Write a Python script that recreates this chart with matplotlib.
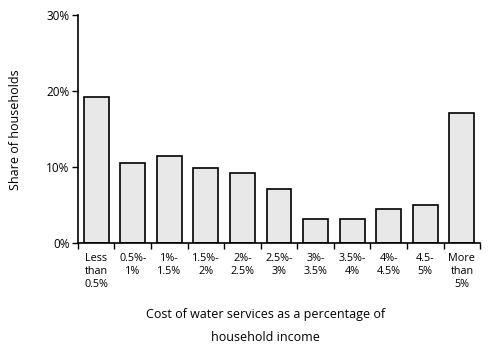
import matplotlib.pyplot as plt
import numpy as np
from matplotlib.ticker import FuncFormatter

plt.rcParams["font.family"] = ["Open Sans", "DejaVu Sans"]

categories = [
    "Less\nthan\n0.5%",
    "0.5%-\n1%",
    "1%-\n1.5%",
    "1.5%-\n2%",
    "2%-\n2.5%",
    "2.5%-\n3%",
    "3%-\n3.5%",
    "3.5%-\n4%",
    "4%-\n4.5%",
    "4.5-\n5%",
    "More\nthan\n5%",
]
shares = [19.25, 10.5, 11.4, 9.8, 9.2, 7.1, 3.2, 3.2, 4.5, 5.0, 17.1]
y_ticks = [0, 10, 20, 30]

fig = plt.figure(figsize=(4.9, 3.53), dpi=100)
ax = fig.add_axes([0.159, 0.312, 0.821, 0.646])

x = np.arange(len(categories))
ax.bar(x, shares, width=0.68, color="#e8e8e8", edgecolor="black", linewidth=1.2)

ax.set_xlim(-0.5, len(categories) - 0.5)
ax.set_ylim(0, 30)
ax.set_yticks(y_ticks)
ax.yaxis.set_major_formatter(FuncFormatter(lambda v, _: f"{v:.0f}%"))
ax.tick_params(axis="y", labelsize=8.5, length=4, width=1, pad=2)

# ticks sit on the category boundaries, labels centred under the bars
ax.set_xticks(np.arange(len(categories) + 1) - 0.5)
ax.set_xticklabels([])
ax.set_xticks(x, minor=True)
ax.set_xticklabels(categories, minor=True, fontsize=7.8, linespacing=1.3, va="top")
ax.tick_params(axis="x", which="major", length=4, width=1)
ax.tick_params(axis="x", which="minor", length=0, pad=7)

for side in ["top", "right"]:
    ax.spines[side].set_visible(False)
for side in ["left", "bottom"]:
    ax.spines[side].set_linewidth(1.2)

fig.text(0.031, 0.632, "Share of households", rotation=90,
         ha="center", va="center", fontsize=9)
fig.text(0.541, 0.110, "Cost of water services as a percentage of",
         ha="center", va="center", fontsize=9)
fig.text(0.541, 0.043, "household income",
         ha="center", va="center", fontsize=9)

plt.savefig("out.png", dpi=100)
plt.close(fig)
